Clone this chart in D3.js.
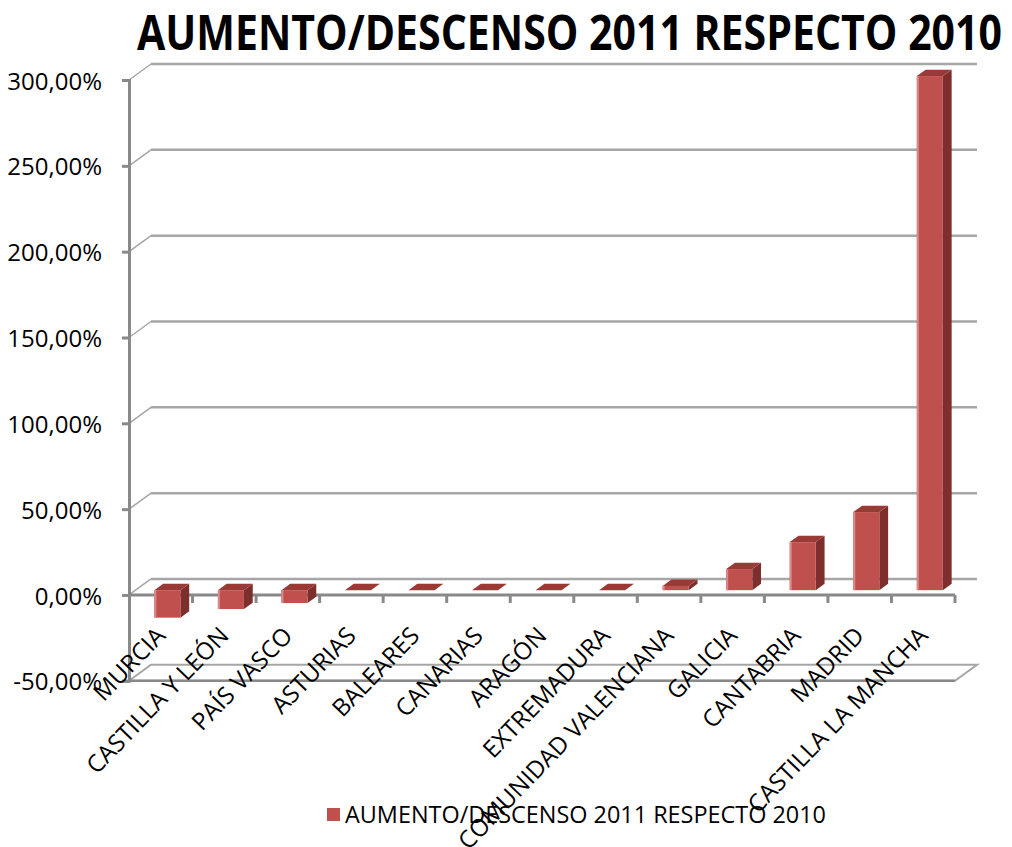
<!DOCTYPE html>
<html>
<head>
<meta charset="utf-8">
<script src="https://cdn.jsdelivr.net/npm/d3@7"></script>
<style>
  html, body { margin: 0; padding: 0; background: #fff; }
  svg { display: block; }
  text { font-family: "Open Sans", "Noto Sans", sans-serif; fill: #000; }
</style>
</head>
<body>
<svg id="chart" width="1012" height="847"></svg>
<script>
// ---- data ----
const title = "AUMENTO/DESCENSO 2011 RESPECTO 2010";
const seriesName = "AUMENTO/DESCENSO 2011 RESPECTO 2010";
const categories = ["MURCIA", "CASTILLA Y LEÓN", "PAÍS VASCO", "ASTURIAS", "BALEARES", "CANARIAS", "ARAGÓN", "EXTREMADURA", "COMUNIDAD VALENCIANA", "GALICIA", "CANTABRIA", "MADRID", "CASTILLA LA MANCHA"];
const values = [-16, -11, -7.5, 0, 0, 0, 0, 0, 2.5, 12.3, 28, 45.5, 299.5];
const yTicks = [-50, 0, 50, 100, 150, 200, 250, 300];

// ---- layout ----
const svg = d3.select("#chart");
svg.append("rect").attr("width", 1012).attr("height", 847).attr("fill", "#fff");

const X0 = 129, X1 = 955;
const DX = 22, DY = -16;          // depth offset of back wall
const F0 = 0.3, F1 = 0.7;          // bar depth fractions

const x = d3.scaleBand().domain(categories).range([X0, X1]).paddingInner(0.59).paddingOuter(0.295);
const y = d3.scaleLinear().domain([-50, 300]).range([680.8, 80]);
const step = x.step();

const colFront = "#C0504D", colSide = "#7D2F2D", colTop = "#9A3A37";
const gridCol = "#A6A6A6", axisCol = "#898989";

// title
svg.append("text")
  .attr("x", 137).attr("y", 50)
  .attr("font-size", 48).attr("font-weight", "bold")
  .attr("textLength", 865).attr("lengthAdjust", "spacingAndGlyphs")
  .text(title);

// back wall gridlines + side diagonals
const gGrid = svg.append("g");
yTicks.filter(v => v > -50).forEach(v => {
  gGrid.append("line")
    .attr("x1", X0 + DX).attr("x2", X1 + DX)
    .attr("y1", y(v) + DY).attr("y2", y(v) + DY)
    .attr("stroke", gridCol).attr("stroke-width", 2.5);
  gGrid.append("line")
    .attr("x1", X0).attr("x2", X0 + DX)
    .attr("y1", y(v)).attr("y2", y(v) + DY)
    .attr("stroke", gridCol).attr("stroke-width", 1.5);
});

// floor at the axis minimum
const yMin = y(-50);
svg.append("polygon")
  .attr("points", [[X0, yMin], [X0 + DX, yMin + DY], [X1 + DX, yMin + DY], [X1, yMin]].map(p => p.join(",")).join(" "))
  .attr("fill", "#fff").attr("stroke", gridCol).attr("stroke-width", 2);
svg.append("line").attr("x1", X0).attr("x2", X1).attr("y1", yMin).attr("y2", yMin)
  .attr("stroke", axisCol).attr("stroke-width", 2.5);

// value axis
const fmt = d => d.toFixed(2).replace(".", ",") + "%";
const yAxis = svg.append("g").attr("transform", `translate(${X0},0)`)
  .call(d3.axisLeft(y).tickValues(yTicks).tickSize(7).tickPadding(20).tickFormat(fmt));
yAxis.select(".domain").attr("stroke", axisCol).attr("stroke-width", 3);
yAxis.selectAll(".tick line").attr("stroke", axisCol).attr("stroke-width", 3);
yAxis.selectAll(".tick text").attr("font-size", 24).attr("fill", "#000")
  .attr("font-family", "Open Sans, sans-serif").attr("dy", "0.38em");

// category axis at zero
const y0 = y(0);
const gCat = svg.append("g");
gCat.append("line").attr("x1", X0).attr("x2", X1).attr("y1", y0).attr("y2", y0)
  .attr("stroke", axisCol).attr("stroke-width", 3);
categories.forEach((c, i) => {
  const xt = X0 + step * (i + 1);
  gCat.append("line").attr("x1", xt).attr("x2", xt).attr("y1", y0).attr("y2", y0 + 8)
    .attr("stroke", axisCol).attr("stroke-width", 3);
});

// bars
const gBars = svg.append("g");
categories.forEach((c, i) => {
  const v = values[i];
  const bw = x.bandwidth();
  const xl = x(c) + DX * F0, xr = xl + bw;
  const yt = y(Math.max(v, 0)) + DY * F0;
  const yb = y(Math.min(v, 0)) + DY * F0;
  const ddx = DX * (F1 - F0), ddy = DY * (F1 - F0);
  const g = gBars.append("g");
  if (yb - yt > 0.5) {
    g.append("polygon")
      .attr("points", [[xr, yt], [xr + ddx, yt + ddy], [xr + ddx, yb + ddy], [xr, yb]].map(p => p.join(",")).join(" "))
      .attr("fill", colSide);
  }
  g.append("polygon")
    .attr("points", [[xl, yt], [xl + ddx, yt + ddy], [xr + ddx, yt + ddy], [xr, yt]].map(p => p.join(",")).join(" "))
    .attr("fill", colTop);
  if (yb - yt > 0.5) {
    g.append("rect").attr("x", xl).attr("y", yt).attr("width", bw).attr("height", yb - yt)
      .attr("fill", colFront);
    g.append("rect").attr("x", xl).attr("y", yt).attr("width", 2).attr("height", yb - yt)
      .attr("fill", "#D98A88");
  }
});

// category labels
const gLab = svg.append("g");
categories.forEach((c, i) => {
  const cx = x(c) + x.bandwidth() / 2 + 6;
  gLab.append("text")
    .attr("transform", `translate(${cx},637) rotate(-46)`)
    .attr("text-anchor", "end")
    .attr("font-size", 24)
    .text(c);
});

// legend
const gLeg = svg.append("g");
gLeg.append("rect").attr("x", 327).attr("y", 808).attr("width", 13).attr("height", 13).attr("fill", colFront);
gLeg.append("text").attr("x", 345).attr("y", 823).attr("font-size", 24)
  .attr("textLength", 481).attr("lengthAdjust", "spacingAndGlyphs")
  .text(seriesName);
</script>
</body>
</html>
